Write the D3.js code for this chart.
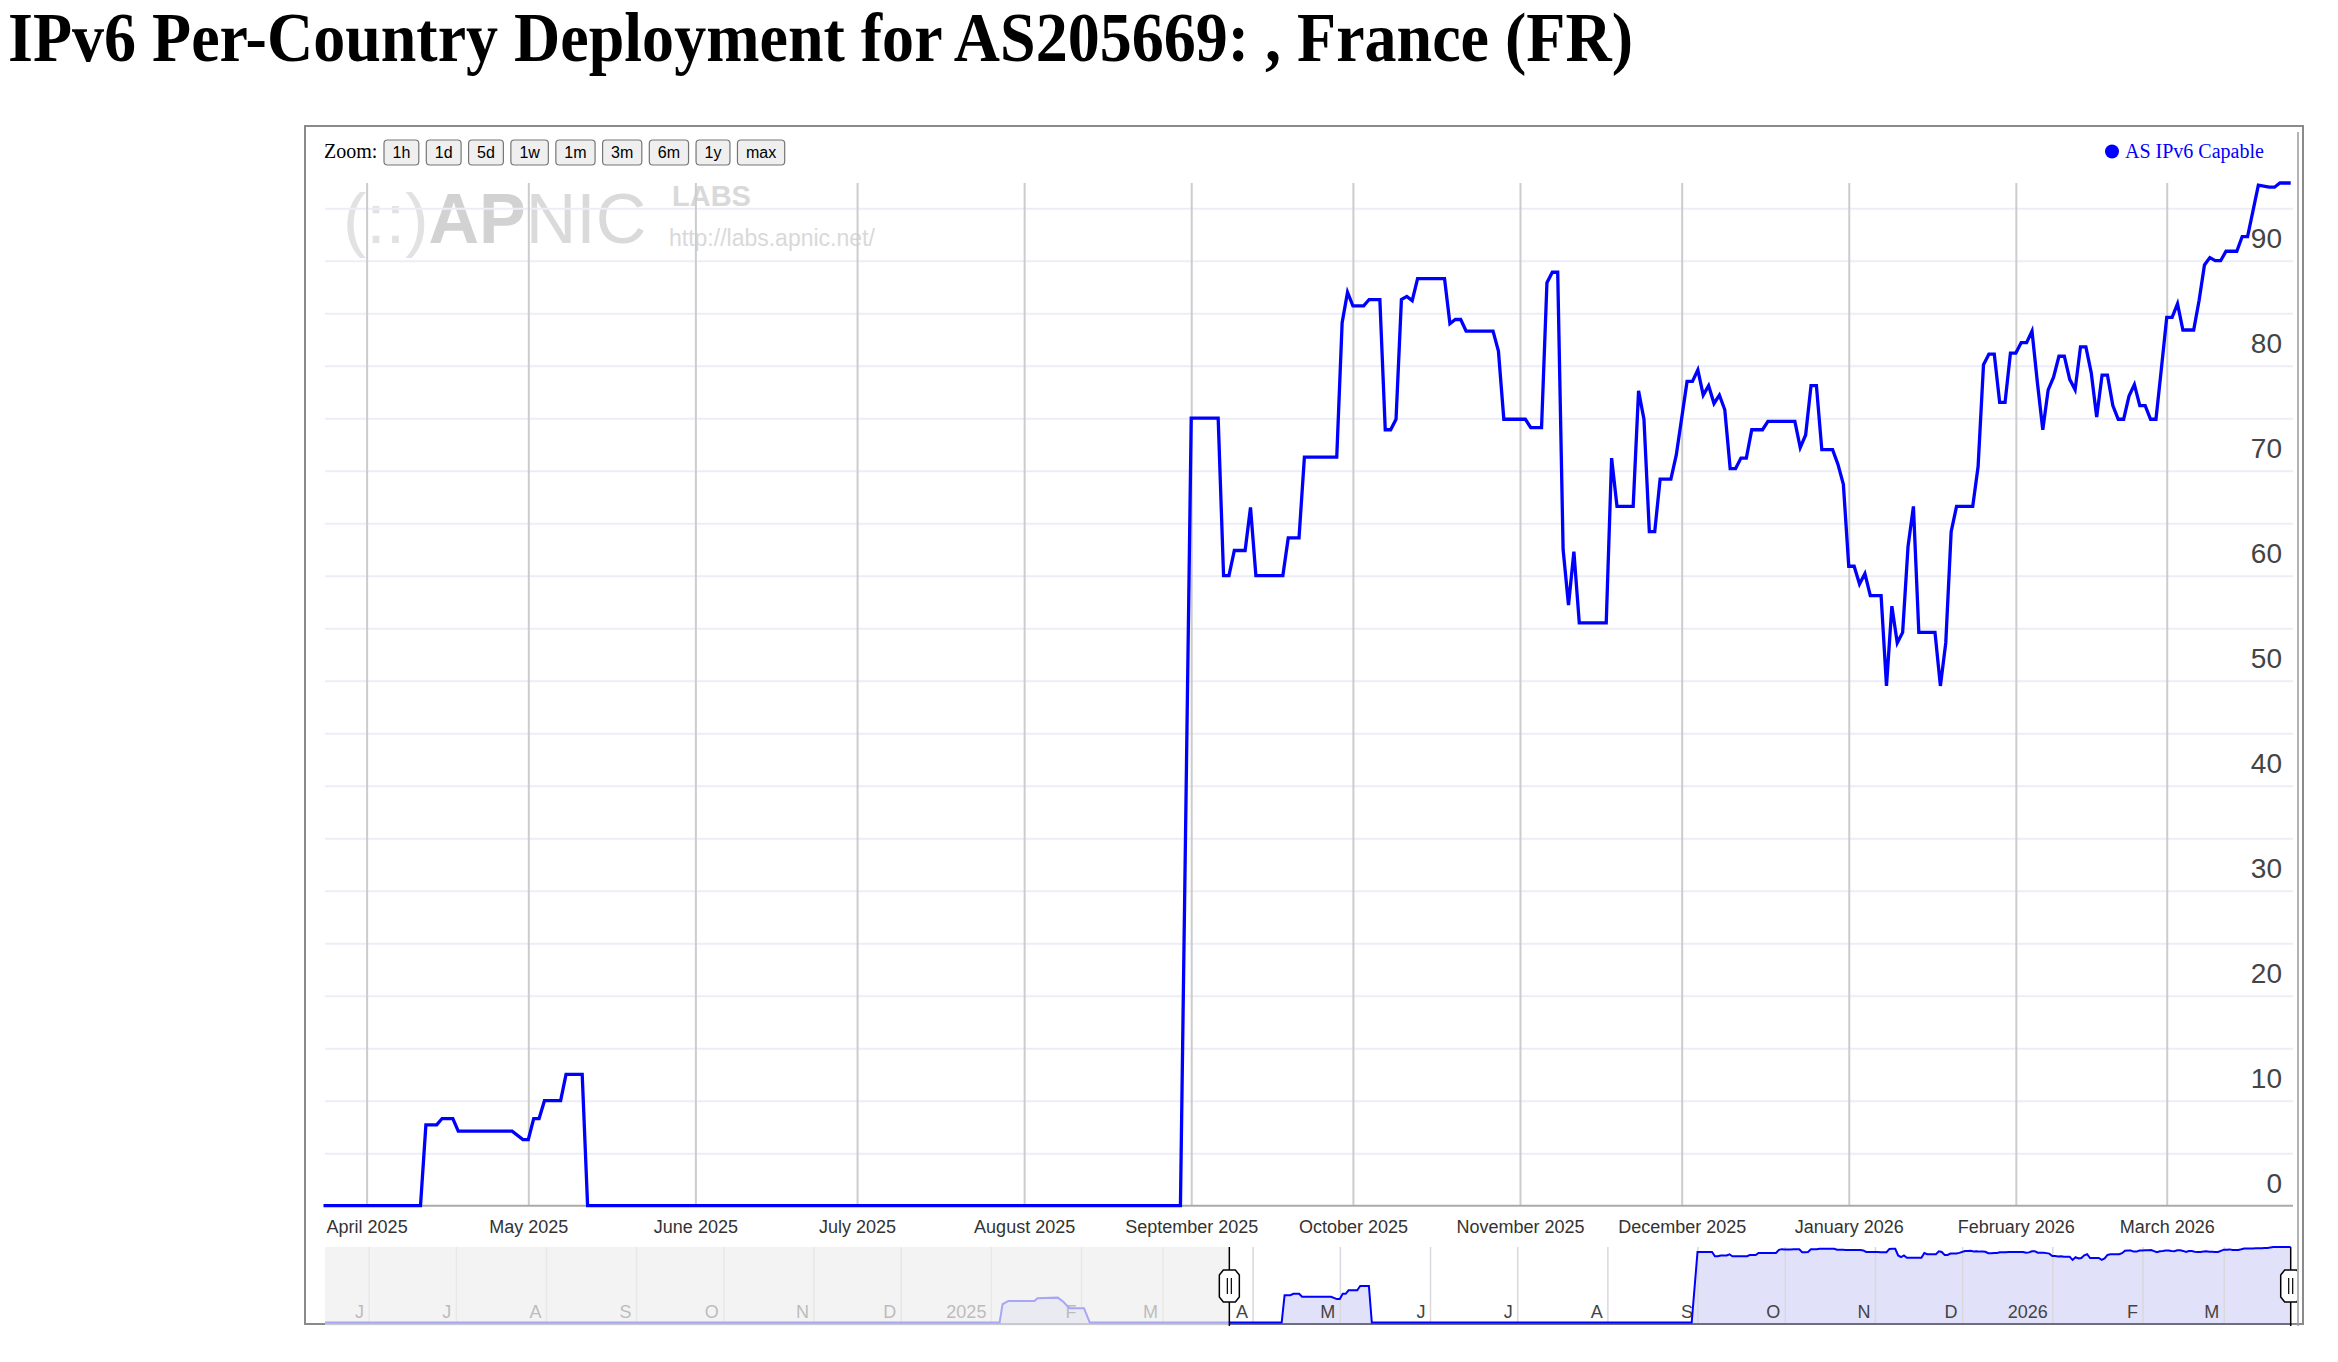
<!DOCTYPE html>
<html><head><meta charset="utf-8">
<script src="https://cdn.jsdelivr.net/npm/d3@7"></script>
<style>
html,body{margin:0;padding:0;background:#fff;}
svg{display:block;}
</style></head><body>
<svg id="chart" width="2338" height="1362"></svg>
<script>
// ---------------- data ----------------
const titleText = "IPv6 Per-Country Deployment for AS205669: , France (FR)";
const seriesName = "AS IPv6 Capable";
const zoomButtons = ["1h","1d","5d","1w","1m","3m","6m","1y","max"];
const yTicks = [0,10,20,30,40,50,60,70,80,90];
const yGridValues = [5,10,15,20,25,30,35,40,45,50,55,60,65,70,75,80,85,90,95];
const windowStart = "2025-03-24";
const windowEnd = "2026-03-24";
const historyStart = "2024-05-17";
const monthTicks = ["2025-04-01","2025-05-01","2025-06-01","2025-07-01","2025-08-01","2025-09-01",
  "2025-10-01","2025-11-01","2025-12-01","2026-01-01","2026-02-01","2026-03-01"];
const selectorTicks = ["2024-06-01","2024-07-01","2024-08-01","2024-09-01","2024-10-01","2024-11-01",
  "2024-12-01","2025-01-01","2025-02-01","2025-03-01","2025-04-01","2025-05-01","2025-06-01",
  "2025-07-01","2025-08-01","2025-09-01","2025-10-01","2025-11-01","2025-12-01","2026-01-01",
  "2026-02-01","2026-03-01"];
// history only visible in the range selector (before the zoom window)
const earlierHistory = [
  ["2024-05-17",0],["2025-01-04",0],["2025-01-05",4.8],["2025-01-07",5.7],["2025-01-16",5.7],
  ["2025-01-17",6.6],["2025-01-24",6.8],["2025-01-26",5.4],["2025-01-28",3.9],["2025-02-02",3.9],
  ["2025-02-04",0],["2025-03-23",0]
];
// AS IPv6 Capable (%) inside the zoom window
const asIPv6Capable = [
  ["2025-03-24",0],["2025-04-11",0],["2025-04-12",7.7],["2025-04-14",7.7],["2025-04-15",8.3],
  ["2025-04-17",8.3],["2025-04-18",7.1],["2025-04-28",7.1],["2025-04-30",6.3],["2025-05-01",6.3],
  ["2025-05-02",8.3],["2025-05-03",8.3],["2025-05-04",10.0],["2025-05-07",10.0],["2025-05-08",12.5],
  ["2025-05-11",12.5],["2025-05-12",0],["2025-08-30",0],["2025-09-01",75.0],["2025-09-06",75.0],
  ["2025-09-07",60.0],["2025-09-08",60.0],["2025-09-09",62.4],["2025-09-11",62.4],["2025-09-12",66.5],
  ["2025-09-13",60.0],["2025-09-18",60.0],["2025-09-19",63.6],["2025-09-21",63.6],["2025-09-22",71.3],
  ["2025-09-28",71.3],["2025-09-29",84.1],["2025-09-30",87.0],["2025-10-01",85.7],["2025-10-03",85.7],
  ["2025-10-04",86.3],["2025-10-06",86.3],["2025-10-07",73.9],["2025-10-08",73.9],["2025-10-09",74.9],
  ["2025-10-10",86.3],["2025-10-11",86.6],["2025-10-12",86.2],["2025-10-13",88.3],["2025-10-18",88.3],
  ["2025-10-19",84.0],["2025-10-20",84.4],["2025-10-21",84.4],["2025-10-22",83.3],["2025-10-27",83.3],
  ["2025-10-28",81.4],["2025-10-29",74.9],["2025-11-02",74.9],["2025-11-03",74.1],["2025-11-05",74.1],
  ["2025-11-06",87.9],["2025-11-07",88.9],["2025-11-08",88.9],["2025-11-09",62.5],["2025-11-10",57.2],
  ["2025-11-11",62.3],["2025-11-12",55.5],["2025-11-17",55.5],["2025-11-18",71.2],["2025-11-19",66.6],
  ["2025-11-22",66.6],["2025-11-23",77.6],["2025-11-24",74.9],["2025-11-25",64.2],["2025-11-26",64.2],
  ["2025-11-27",69.2],["2025-11-29",69.2],["2025-11-30",71.5],["2025-12-02",78.5],["2025-12-03",78.5],
  ["2025-12-04",79.6],["2025-12-05",77.2],["2025-12-06",78.1],["2025-12-07",76.4],["2025-12-08",77.2],
  ["2025-12-09",75.8],["2025-12-10",70.2],["2025-12-11",70.2],["2025-12-12",71.2],["2025-12-13",71.2],
  ["2025-12-14",73.9],["2025-12-16",73.9],["2025-12-17",74.7],["2025-12-22",74.7],["2025-12-23",72.2],
  ["2025-12-24",73.4],["2025-12-25",78.1],["2025-12-26",78.1],["2025-12-27",72.0],["2025-12-29",72.0],
  ["2025-12-30",70.6],["2025-12-31",68.7],["2026-01-01",60.9],["2026-01-02",60.9],["2026-01-03",59.2],
  ["2026-01-04",60.2],["2026-01-05",58.1],["2026-01-07",58.1],["2026-01-08",49.5],["2026-01-09",57.1],
  ["2026-01-10",53.6],["2026-01-11",54.6],["2026-01-12",62.8],["2026-01-13",66.6],["2026-01-14",54.6],
  ["2026-01-17",54.6],["2026-01-18",49.5],["2026-01-19",53.6],["2026-01-20",64.2],["2026-01-21",66.6],
  ["2026-01-24",66.6],["2026-01-25",70.4],["2026-01-26",80.1],["2026-01-27",81.1],["2026-01-28",81.1],
  ["2026-01-29",76.5],["2026-01-30",76.5],["2026-01-31",81.2],["2026-02-01",81.2],["2026-02-02",82.2],
  ["2026-02-03",82.2],["2026-02-04",83.3],["2026-02-05",78.4],["2026-02-06",73.9],["2026-02-07",77.7],
  ["2026-02-08",78.9],["2026-02-09",80.9],["2026-02-10",80.9],["2026-02-11",78.7],["2026-02-12",77.7],
  ["2026-02-13",81.8],["2026-02-14",81.8],["2026-02-15",79.3],["2026-02-16",75.1],["2026-02-17",79.1],
  ["2026-02-18",79.1],["2026-02-19",76.2],["2026-02-20",74.9],["2026-02-21",74.9],["2026-02-22",77.1],
  ["2026-02-23",78.2],["2026-02-24",76.2],["2026-02-25",76.2],["2026-02-26",74.9],["2026-02-27",74.9],
  ["2026-02-28",79.7],["2026-03-01",84.6],["2026-03-02",84.6],["2026-03-03",85.9],["2026-03-04",83.4],
  ["2026-03-06",83.4],["2026-03-07",86.2],["2026-03-08",89.6],["2026-03-09",90.3],["2026-03-10",90.0],
  ["2026-03-11",90.0],["2026-03-12",90.9],["2026-03-14",90.9],["2026-03-15",92.3],["2026-03-16",92.3],
  ["2026-03-18",97.2],["2026-03-20",97.0],["2026-03-21",97.0],["2026-03-22",97.4],["2026-03-24",97.4]
];

// ---------------- drawing ----------------
const parse = d3.timeParse("%Y-%m-%d");
const mainData = asIPv6Capable.map(d => ({date: parse(d[0]), value: d[1]}));
const fullData = earlierHistory.concat(asIPv6Capable).map(d => ({date: parse(d[0]), value: d[1]}));

const svg = d3.select("#chart");
const SANS = "'Liberation Sans', Arial, Helvetica, sans-serif";
const SERIF = "'Liberation Serif', 'Times New Roman', Times, serif";

const plot = {left: 323.5, right: 2290.7, top: 183, bottom: 1205.7};
const gridLeft = 325, gridRight = 2293;

const x = d3.scaleTime().domain([parse(windowStart), parse(windowEnd)]).range([plot.left, plot.right]);
const y = d3.scaleLinear().domain([0, d3.max(mainData, d => d.value)]).range([plot.bottom, plot.top]);

// title
svg.append("text")
  .attr("x", 8).attr("y", 61)
  .attr("font-family", SERIF).attr("font-weight", "bold").attr("font-size", 70)
  .attr("textLength", 1625).attr("lengthAdjust", "spacingAndGlyphs")
  .attr("fill", "#000")
  .text(titleText);

// frame
svg.append("rect").attr("x", 305).attr("y", 126).attr("width", 1998).attr("height", 1198)
  .attr("fill", "none").attr("stroke", "#8a8a8a").attr("stroke-width", 2);

// watermark
const wm = svg.append("g");
let lx = 343;
[["(::)", "normal", "#e2e2e2"], ["AP", "bold", "#d2d2d2"], ["NIC", "normal", "#dadada"]].forEach(p => {
  const t = wm.append("text").attr("x", lx).attr("y", 243).attr("font-family", SANS)
    .attr("font-size", 70).attr("font-weight", p[1]).attr("fill", p[2]).text(p[0]);
  lx += t.node().getComputedTextLength();
});
wm.append("text").attr("x", 672).attr("y", 206).attr("font-family", SANS).attr("font-weight", "bold")
  .attr("font-size", 29).attr("fill", "#d9d9d9").text("LABS");
wm.append("text").attr("x", 669).attr("y", 246).attr("font-family", SANS)
  .attr("font-size", 23).attr("fill", "#d9d9d9").text("http://labs.apnic.net/");

// horizontal grid
const yGrid = svg.append("g").attr("transform", `translate(${gridLeft},0)`)
  .call(d3.axisLeft(y).tickValues(yGridValues).tickSize(-(gridRight - gridLeft)).tickFormat(""));
yGrid.select(".domain").remove();
yGrid.selectAll("line").attr("stroke", "#ededf7").attr("stroke-width", 2);

// vertical grid
const xGrid = svg.append("g").attr("transform", `translate(0,${plot.bottom})`)
  .call(d3.axisBottom(x).tickValues(monthTicks.map(parse)).tickSize(-(plot.bottom - plot.top)).tickFormat(""));
xGrid.select(".domain").remove();
xGrid.selectAll("line").attr("stroke", "#cccccc").attr("stroke-width", 2);

// x axis line + labels
const xAxis = svg.append("g").attr("transform", `translate(0,${plot.bottom})`)
  .call(d3.axisBottom(x).tickValues(monthTicks.map(parse)).tickSize(0).tickSizeOuter(0).tickPadding(14.5)
    .tickFormat(d3.timeFormat("%B %Y")));
xAxis.select(".domain").attr("stroke", "#aaaaaa").attr("stroke-width", 2)
  .attr("d", `M${gridLeft},0H${gridRight}`);
xAxis.selectAll("text").attr("font-family", SANS).attr("font-size", 18).attr("fill", "#333");

// y labels (inside plot, right side)
const yAxis = svg.append("g").attr("transform", "translate(2282,0)")
  .call(d3.axisLeft(y).tickValues(yTicks).tickSize(0).tickPadding(0));
yAxis.select(".domain").remove();
yAxis.selectAll("text").attr("font-family", SANS).attr("font-size", 28).attr("fill", "#444")
  .attr("dy", "-0.48em");

// main line
svg.append("defs").append("clipPath").attr("id", "plotClip").append("rect")
  .attr("x", gridLeft - 2).attr("y", plot.top - 4).attr("width", gridRight - gridLeft + 4)
  .attr("height", plot.bottom - plot.top + 8);
const line = d3.line().x(d => x(d.date)).y(d => y(d.value));
svg.append("path").datum(mainData).attr("clip-path", "url(#plotClip)")
  .attr("d", line).attr("fill", "none").attr("stroke", "#0000ff").attr("stroke-width", 3.3);

// zoom buttons
svg.append("text").attr("x", 324).attr("y", 158).attr("font-family", SERIF).attr("font-size", 20)
  .attr("fill", "#000").text("Zoom:");
let bx = 384;
const btnG = svg.append("g");
zoomButtons.forEach(label => {
  const t = btnG.append("text").attr("font-family", SANS).attr("font-size", 16).attr("fill", "#000")
    .attr("text-anchor", "middle").attr("y", 158).text(label);
  const w = t.node().getComputedTextLength() + 17;
  btnG.insert("rect", "text").attr("x", bx).attr("y", 140).attr("width", w).attr("height", 25)
    .attr("rx", 3.5).attr("fill", "#efefef").attr("stroke", "#767676").attr("stroke-width", 1.2);
  t.attr("x", bx + w / 2);
  bx += w + 7.5;
});

// legend
svg.append("circle").attr("cx", 2112).attr("cy", 151.5).attr("r", 7).attr("fill", "#0000ff");
svg.append("text").attr("x", 2125).attr("y", 158).attr("font-family", SERIF).attr("font-size", 20)
  .attr("fill", "#0000ff").text(seriesName);

// ---------------- range selector ----------------
const rs = {left: 325, right: 2290.7, top: 1247, bottom: 1324};
const rsX = d3.scaleTime().domain([parse(historyStart), parse(windowEnd)]).range([rs.left, rs.right]);
const rsY = d3.scaleLog().domain([1.7, d3.max(fullData, d => d.value)]).range([rs.bottom, rs.top]).clamp(true);
const rsVal = v => v <= 0 ? rs.bottom : rsY(v);

svg.append("rect").attr("x", rs.left).attr("y", rs.top).attr("width", rs.right - rs.left)
  .attr("height", rs.bottom - rs.top).attr("fill", "#fff");

const rsArea = d3.area().x(d => rsX(d.date)).y0(rs.bottom).y1(d => rsVal(d.value));
const rsLine = d3.line().x(d => rsX(d.date)).y(d => Math.min(rsVal(d.value), rs.bottom - 1.5));
svg.append("path").datum(fullData).attr("d", rsArea).attr("fill", "#e1e1fa");

const rsAxis = svg.append("g").attr("transform", `translate(0,${rs.bottom})`)
  .call(d3.axisBottom(rsX).tickValues(selectorTicks.map(parse)).tickSize(-(rs.bottom - rs.top))
    .tickFormat(d => d.getMonth() === 0 ? d3.timeFormat("%Y")(d) : d3.timeFormat("%B")(d).charAt(0)));
rsAxis.select(".domain").remove();
rsAxis.selectAll("line").attr("stroke", "#d8d8de").attr("stroke-width", 1.5);
rsAxis.selectAll("text").attr("font-family", SANS).attr("font-size", 18).attr("fill", "#444")
  .attr("text-anchor", "end").attr("x", -5).attr("y", -6).attr("dy", 0);

svg.append("line").attr("x1", rs.left).attr("x2", rs.right).attr("y1", rs.bottom).attr("y2", rs.bottom)
  .attr("stroke", "#6e6e80").attr("stroke-width", 2);
svg.append("path").datum(fullData).attr("d", rsLine).attr("fill", "none")
  .attr("stroke", "#0000ff").attr("stroke-width", 2);

// unselected overlay
const hx0 = rsX(parse(windowStart)), hx1 = rsX(parse(windowEnd));
svg.append("rect").attr("x", rs.left).attr("y", rs.top).attr("width", hx0 - rs.left)
  .attr("height", rs.bottom - rs.top + 1.5).attr("fill", "rgb(238,238,238)").attr("fill-opacity", 0.7);

// handles
function handle(hx) {
  const g = svg.append("g").attr("transform", `translate(${hx},0)`);
  g.append("line").attr("x1", 0).attr("x2", 0).attr("y1", rs.top).attr("y2", rs.bottom + 2)
    .attr("stroke", "#000").attr("stroke-width", 1.5);
  const cy = 1286;
  g.append("path").attr("d",
    `M-10,${cy-11}L-6,${cy-16}L6,${cy-16}L10,${cy-11}L10,${cy+11}L6,${cy+16}L-6,${cy+16}L-10,${cy+11}Z`)
    .attr("fill", "#fff").attr("stroke", "#000").attr("stroke-width", 1.5);
  g.append("line").attr("x1", -2).attr("x2", -2).attr("y1", cy - 8).attr("y2", cy + 8).attr("stroke", "#000").attr("stroke-width", 1.2);
  g.append("line").attr("x1", 2).attr("x2", 2).attr("y1", cy - 8).attr("y2", cy + 8).attr("stroke", "#000").attr("stroke-width", 1.2);
}
handle(hx0);
handle(hx1);

// right-side frame lines (drawn over handle)
svg.append("rect").attr("x", 2297).attr("y", 127).attr("width", 5).attr("height", 1196).attr("fill", "#fff");
svg.append("line").attr("x1", 2298).attr("x2", 2298).attr("y1", 132).attr("y2", 1326)
  .attr("stroke", "#9a9a9a").attr("stroke-width", 1.5);
svg.append("line").attr("x1", 2303).attr("x2", 2303).attr("y1", 126).attr("y2", 1325)
  .attr("stroke", "#8a8a8a").attr("stroke-width", 2);
</script>
</body></html>
